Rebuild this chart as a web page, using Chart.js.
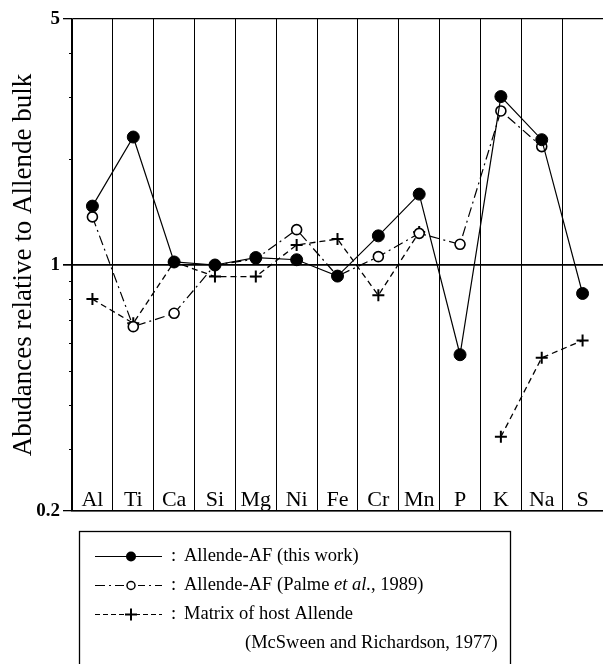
<!DOCTYPE html>
<html>
<head>
<meta charset="utf-8">
<script src="https://cdn.jsdelivr.net/npm/chart.js@4.4.0/dist/chart.umd.min.js"></script>
<style>
    html, body { margin: 0; padding: 0; background: #fff; }
    #wrap { width: 603px; height: 664px; }
</style>
</head>
<body>
<div id="wrap"><canvas id="abundanceChart" width="603" height="664"></canvas></div>
<script>
// Element order along the x axis
const elements = ['Al', 'Ti', 'Ca', 'Si', 'Mg', 'Ni', 'Fe', 'Cr', 'Mn', 'P', 'K', 'Na', 'S'];

// Abundances relative to Allende bulk
const thisWork = [1.47, 2.31, 1.02, 1.00, 1.05, 1.035, 0.93, 1.21, 1.59, 0.556, 3.01, 2.27, 0.83];
const palme1989 = [1.37, 0.668, 0.729, 1.00, 1.04, 1.26, 0.93, 1.056, 1.23, 1.145, 2.74, 2.17, null];
const hostMatrix = [0.80, 0.683, 1.02, 0.927, 0.927, 1.14, 1.185, 0.82, 1.24, null, 0.325, 0.545, 0.61];

// Log axis ticks: all get a mark, only these get a label
const yTickValues = [0.2, 0.3, 0.4, 0.5, 0.6, 0.7, 0.8, 0.9, 1, 2, 3, 4, 5];
const yTickLabels = { 0.2: '0.2', 1: '1', 5: '5' };

const serif = '"Liberation Serif", "Times New Roman", serif';

function isMajor(v) {
    return yTickLabels[v] !== undefined;
}

// Draws the element names inside the plot, the minor tick marks and the boxed legend
const figureExtras = {
    id: 'figureExtras',
    afterDraw(chart) {
        const { ctx, scales: { x, y } } = chart;
        const left = chart.chartArea.left;
        ctx.save();

        ctx.fillStyle = '#000';
        ctx.font = '22px ' + serif;
        ctx.textAlign = 'center';
        ctx.textBaseline = 'alphabetic';
        elements.forEach((el, i) => ctx.fillText(el, x.getPixelForValue(i), 506));

        // small minor ticks
        ctx.strokeStyle = '#000';
        ctx.lineWidth = 1;
        yTickValues.filter(v => !isMajor(v)).forEach(v => {
            const py = Math.round(y.getPixelForValue(v)) + 0.5;
            ctx.beginPath();
            ctx.moveTo(left - 3, py);
            ctx.lineTo(left, py);
            ctx.stroke();
        });

        // legend box
        ctx.lineWidth = 1.3;
        ctx.strokeRect(79.5, 531.5, 431, 140);

        const rows = [556, 585, 614];
        const samples = [
            { dash: [], marker: 'dot' },
            { dash: [10, 4, 2, 4], marker: 'ring' },
            { dash: [5, 3], marker: 'plus' }
        ];
        samples.forEach((s, i) => {
            const ry = rows[i] + 0.5;
            ctx.setLineDash(s.dash);
            ctx.lineWidth = 1.2;
            ctx.beginPath();
            ctx.moveTo(95, ry);
            ctx.lineTo(162, ry);
            ctx.stroke();
            ctx.setLineDash([]);
            ctx.beginPath();
            if (s.marker === 'dot') {
                ctx.arc(131, ry, 5, 0, Math.PI * 2);
                ctx.fill();
            } else if (s.marker === 'ring') {
                ctx.fillStyle = '#fff';
                ctx.fillRect(124, ry - 6, 14, 12);
                ctx.fillStyle = '#000';
                ctx.arc(131, ry, 4, 0, Math.PI * 2);
                ctx.lineWidth = 1.5;
                ctx.stroke();
            } else {
                ctx.lineWidth = 2;
                ctx.moveTo(125, ry); ctx.lineTo(137, ry);
                ctx.moveTo(131, ry - 6); ctx.lineTo(131, ry + 6);
                ctx.stroke();
            }
        });

        ctx.textAlign = 'left';
        ctx.textBaseline = 'middle';
        const normal = '18.5px ' + serif;
        const italic = 'italic 18.5px ' + serif;
        ctx.font = normal;
        rows.forEach(ry => ctx.fillText(':', 171, ry));

        ctx.fillText('Allende-AF (this work)', 184, rows[0]);

        let tx = 184;
        const parts = [['Allende-AF (Palme ', normal], ['et al.', italic], [', 1989)', normal]];
        parts.forEach(([t, f]) => {
            ctx.font = f;
            ctx.fillText(t, tx, rows[1]);
            tx += ctx.measureText(t).width;
        });

        ctx.font = normal;
        ctx.fillText('Matrix of host Allende', 184, rows[2]);
        ctx.fillText('(McSween and Richardson, 1977)', 245, 643);

        ctx.restore();
    }
};

new Chart(document.getElementById('abundanceChart'), {
    type: 'line',
    data: {
        labels: elements,
        datasets: [
            {
                label: 'Allende-AF (this work)',
                data: thisWork,
                borderColor: '#000',
                borderWidth: 1.2,
                pointStyle: 'circle',
                pointRadius: 6,
                pointBackgroundColor: '#000',
                pointBorderColor: '#000',
                pointBorderWidth: 1
            },
            {
                label: 'Allende-AF (Palme et al., 1989)',
                data: palme1989,
                borderColor: '#000',
                borderWidth: 1.2,
                borderDash: [10, 4, 2, 4],
                pointStyle: 'circle',
                pointRadius: 5,
                pointBackgroundColor: '#fff',
                pointBorderColor: '#000',
                pointBorderWidth: 1.6
            },
            {
                label: 'Matrix of host Allende (McSween and Richardson, 1977)',
                data: hostMatrix,
                borderColor: '#000',
                borderWidth: 1.3,
                borderDash: [6, 4],
                pointStyle: 'cross',
                pointRadius: 6,
                pointBorderColor: '#000',
                pointBorderWidth: 2
            }
        ]
    },
    options: {
        responsive: false,
        devicePixelRatio: 1,
        animation: false,
        events: [],
        spanGaps: false,
        layout: { autoPadding: false, padding: { top: 19, right: 0, bottom: 153, left: 0 } },
        plugins: {
            legend: { display: false },
            tooltip: { enabled: false }
        },
        scales: {
            x: {
                type: 'category',
                offset: true,
                afterFit: s => { s.height = 0; s.paddingLeft = 0; s.paddingRight = 0; },
                ticks: { display: false },
                grid: { color: '#000', lineWidth: 1, offset: true, drawTicks: false },
                border: { display: true, color: '#000', width: 1.5 }
            },
            y: {
                type: 'logarithmic',
                min: 0.2,
                max: 5,
                afterFit: s => { s.width = 72; s.paddingLeft = 0; s.paddingRight = 0; },
                afterBuildTicks: s => { s.ticks = yTickValues.map(v => ({ value: v })); },
                ticks: {
                    autoSkip: false,
                    padding: 3,
                    color: '#000',
                    font: { family: serif, size: 19, weight: 'bold' },
                    callback: v => yTickLabels[v] || ''
                },
                grid: {
                    color: c => isMajor(c.tick.value) ? '#000' : 'rgba(0,0,0,0)',
                    lineWidth: c => c.tick.value === 1 ? 1.7 : 1.3,
                    tickColor: c => isMajor(c.tick.value) ? '#000' : 'rgba(0,0,0,0)',
                    tickLength: 9
                },
                border: { display: true, color: '#000', width: 1.3 },
                title: {
                    display: true,
                    text: 'Abudances relative to Allende bulk',
                    color: '#000',
                    font: { family: serif, size: 27 },
                    padding: { top: 8, bottom: 0 }
                }
            }
        }
    },
    plugins: [figureExtras]
});
</script>
</body>
</html>
